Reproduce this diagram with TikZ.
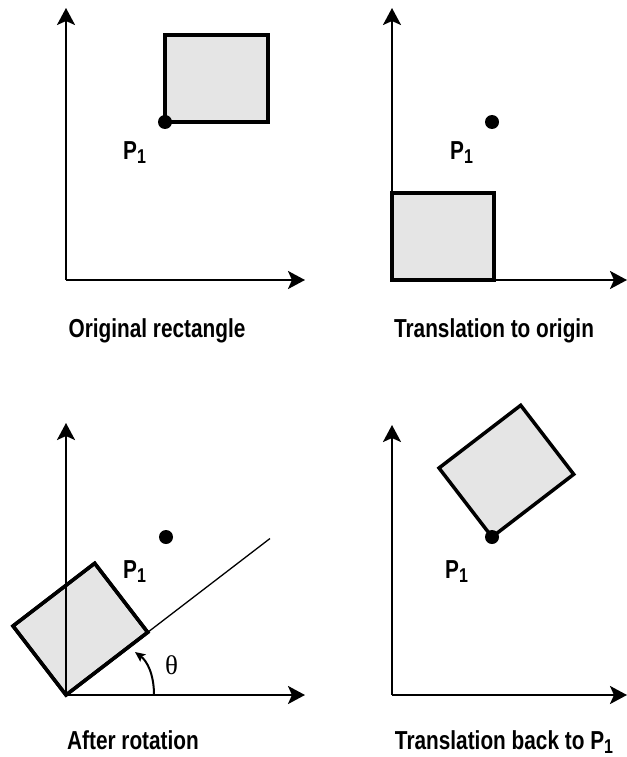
\documentclass[tikz,border=0pt]{standalone}
\usepackage{fontspec}
\setmainfont{Liberation Sans Bold}[FakeStretch=0.80]
\newfontfamily\thetafont{Liberation Serif}
\usetikzlibrary{arrows.meta}
\newcommand\mysub[1]{\raisebox{-4pt}{\fontsize{20pt}{20pt}\selectfont #1}}
\tikzset{
  axis/.style={line width=2.5pt,-{Stealth[length=17pt,width=18pt,inset=4pt]}},
  rectbox/.style={line width=3.5pt,fill=black!10,line join=miter},
  pdot/.style={fill=black},
  lbl/.style={anchor=base,inner sep=0pt,font=\fontsize{26pt}{26pt}\selectfont},
  plbl/.style={anchor=base west,inner sep=0pt,font=\fontsize{26pt}{26pt}\selectfont},
  thinline/.style={line width=1.3pt},
  anglearrow/.style={line width=2pt,-{Stealth[length=10pt,width=9pt,inset=2pt]}}
}
\begin{document}
\begin{tikzpicture}[x=1pt,y=-1pt]
\useasboundingbox (0,0) rectangle (626,757);
% ---------- panel 1
\coordinate (o1) at (66,280);
\coordinate (y1) at (66,8);
\coordinate (x1) at (305,280);
\draw[axis] (o1) -- (y1);
\draw[axis] (o1) -- (x1);
\coordinate (p1a) at (165,122);
\draw[rectbox] (p1a) rectangle (268,35);
\fill[pdot] (p1a) circle (7);
\node[plbl] (lp1) at (123,159) {P\mysub{1}};
\node[lbl] (c1) at (157,337) {Original rectangle};
% ---------- panel 2
\coordinate (o2) at (392,280);
\coordinate (y2) at (392,8);
\coordinate (x2) at (627,280);
\draw[rectbox] (o2) rectangle (494,193);
\draw[axis] (o2) -- (y2);
\draw[axis] (o2) -- (x2);
\draw[rectbox,fill=none] (o2) rectangle (494,193);
\coordinate (p2) at (492,122);
\fill[pdot] (p2) circle (7);
\node[plbl] (lp2) at (450,159) {P\mysub{1}};
\node[lbl] (c2) at (494,337) {Translation to origin};
% ---------- panel 3
\coordinate (o3) at (66,695);
\coordinate (y3) at (66,423);
\coordinate (x3) at (305,695);
\coordinate (r3a) at (147.7,632.3);
\coordinate (r3b) at (94.7,563.3);
\coordinate (r3c) at (13,626);
\coordinate (l3) at (270,538.5);
\draw[thinline] (o3) -- (l3);
\draw[rectbox] (o3) -- (r3a) -- (r3b) -- (r3c) -- cycle;
\draw[axis] (o3) -- (y3);
\draw[axis] (o3) -- (x3);
\draw[rectbox,fill=none] (o3) -- (r3a) -- (r3b) -- (r3c) -- cycle;
\coordinate (p3) at (166,537);
\fill[pdot] (p3) circle (7);
\node[plbl] (lp3) at (123,578) {P\mysub{1}};
\coordinate (a3s) at (154,695);
\coordinate (a3e) at (135,652);
\draw[anglearrow] (a3s) .. controls (154,674) and (147,661) .. (a3e);
\node[anchor=base,inner sep=0pt,font=\thetafont\fontsize{27pt}{27pt}\selectfont] (th) at (171.5,674) {θ};
\node[lbl] (c3) at (133,749) {After rotation};
% ---------- panel 4
\coordinate (o4) at (392,695);
\coordinate (y4) at (392,425);
\coordinate (x4) at (627,695);
\draw[axis] (o4) -- (y4);
\draw[axis] (o4) -- (x4);
\coordinate (p4) at (492,537);
\coordinate (r4a) at (573.7,474.3);
\coordinate (r4b) at (520.7,405.3);
\coordinate (r4c) at (439,468);
\draw[rectbox] (p4) -- (r4a) -- (r4b) -- (r4c) -- cycle;
\fill[pdot] (p4) circle (7);
\node[plbl] (lp4) at (445,578) {P\mysub{1}};
\node[lbl] (c4) at (504,749) {Translation back to P\mysub{1}};
\end{tikzpicture}
\end{document}
